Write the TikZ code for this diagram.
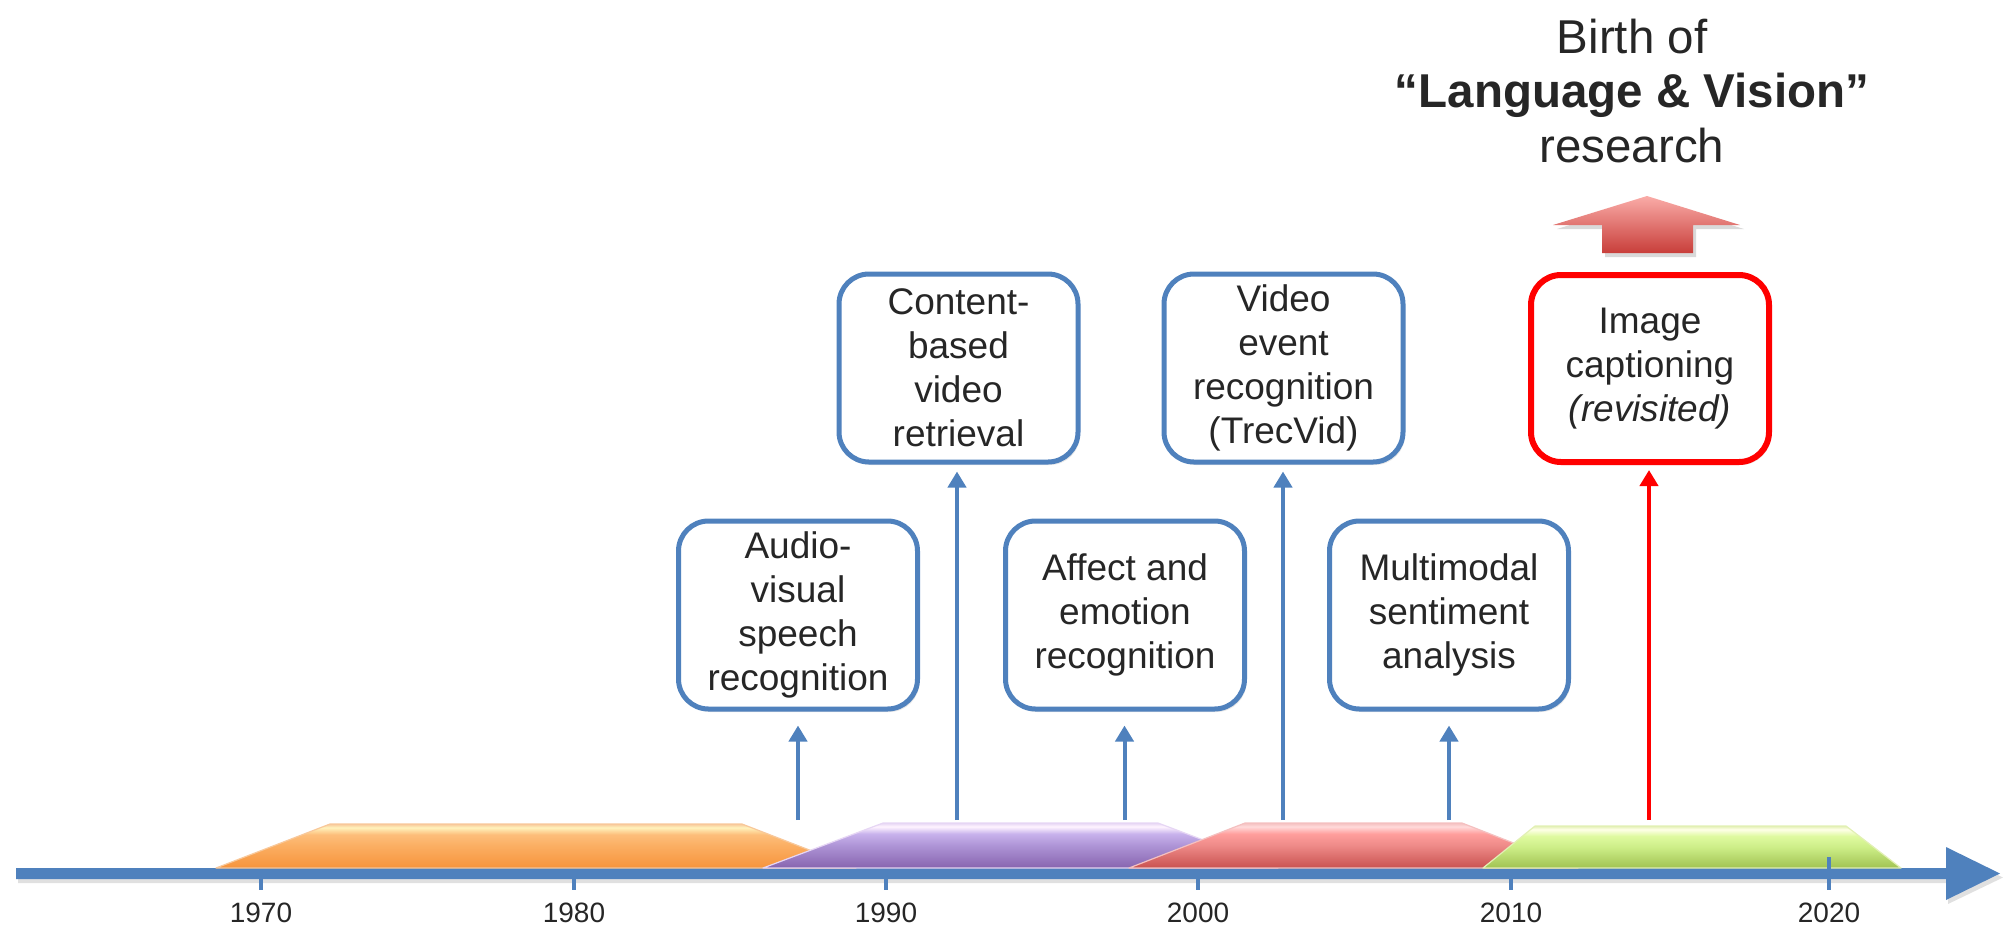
\documentclass[tikz,border=0pt]{standalone}
\usepackage{fontspec}
\setmainfont{Liberation Sans}
\usetikzlibrary{arrows.meta,shadows}

\definecolor{axisblue}{HTML}{4F81BD}
\definecolor{txt}{HTML}{262626}
\definecolor{keyred}{HTML}{FF0000}
\definecolor{upT}{RGB}{250,172,168}
\definecolor{upB}{RGB}{200,62,58}

% era bars: dark bottom edge, saturated body, light bevel band at the top
\definecolor{or1}{HTML}{E0843A}\definecolor{or2}{HTML}{F7963F}\definecolor{or3}{HTML}{FBAE62}
\definecolor{or4}{HTML}{FDBE7A}\definecolor{or5}{HTML}{FFF2BC}\definecolor{or6}{HTML}{F8C89A}
\definecolor{pu1}{HTML}{7B5C9C}\definecolor{pu2}{HTML}{8A68B2}\definecolor{pu3}{HTML}{AE94D6}
\definecolor{pu4}{HTML}{C8B2EC}\definecolor{pu5}{HTML}{FFF4FF}\definecolor{pu6}{HTML}{E6D6F4}
\definecolor{re1}{HTML}{B84A48}\definecolor{re2}{HTML}{CC5654}\definecolor{re3}{HTML}{EE8A88}
\definecolor{re4}{HTML}{FF9E9C}\definecolor{re5}{HTML}{FFDADA}\definecolor{re6}{HTML}{F4C0C0}
\definecolor{gr1}{HTML}{98B850}\definecolor{gr2}{HTML}{A4C656}\definecolor{gr3}{HTML}{CDEE88}
\definecolor{gr4}{HTML}{DFFAA0}\definecolor{gr5}{HTML}{FFFFE8}\definecolor{gr6}{HTML}{E2F0B4}
\pgfdeclareverticalshading{orshade}{100bp}{color(0bp)=(or1); color(25bp)=(or1); color(27bp)=(or2);
  color(50bp)=(or3); color(63bp)=(or4); color(71bp)=(or5); color(75bp)=(or6); color(100bp)=(or6)}
\pgfdeclareverticalshading{pushade}{100bp}{color(0bp)=(pu1); color(25bp)=(pu1); color(27bp)=(pu2);
  color(50bp)=(pu3); color(63bp)=(pu4); color(71bp)=(pu5); color(75bp)=(pu6); color(100bp)=(pu6)}
\pgfdeclareverticalshading{reshade}{100bp}{color(0bp)=(re1); color(25bp)=(re1); color(27bp)=(re2);
  color(50bp)=(re3); color(63bp)=(re4); color(71bp)=(re5); color(75bp)=(re6); color(100bp)=(re6)}
\pgfdeclareverticalshading{grshade}{100bp}{color(0bp)=(gr1); color(25bp)=(gr1); color(27bp)=(gr2);
  color(50bp)=(gr3); color(63bp)=(gr4); color(71bp)=(gr5); color(75bp)=(gr6); color(100bp)=(gr6)}

\begin{document}
\begin{tikzpicture}[x=0.5pt,y=-0.5pt,
  evbox/.style={draw=axisblue, line width=2.5pt, rounded corners=15pt, fill=white,
    minimum width=119.5pt, minimum height=94pt, inner sep=0pt, align=center,
    text=txt, font=\fontsize{18.5}{22}\selectfont,
    execute at begin node={\rule{0pt}{18.5pt}},
    drop shadow={shadow xshift=1pt, shadow yshift=-1.5pt, opacity=0.18}},
  keybox/.style={evbox, draw=keyred, line width=3pt, minimum width=119pt, minimum height=93.5pt},
  link/.style={draw=axisblue, line width=2pt, -{Triangle[width=9pt,length=8pt]}},
  keylink/.style={link, draw=keyred},
  axistick/.style={draw=axisblue, line width=2pt},
  yearlabel/.style={text=txt, font=\fontsize{14}{16}\selectfont, inner sep=0pt},
  era/.style={line width=0.6pt, line join=round, draw=#16, shading=#1shade}
]
\useasboundingbox (0,0) rectangle (2009,928);

% time axis with its arrow head
\fill[black, opacity=0.12] (18,872) -- (1948,872) -- (1948,851) -- (2003,877.5) -- (1948,904) -- (1948,883) -- (18,883) -- cycle;
\fill[axisblue] (16,868) -- (1946,868) -- (1946,847) -- (2000,873.5) -- (1946,900) -- (1946,879) -- (16,879) -- cycle;

% eras along the axis
\path[era=or] (216,868) -- (330,824) -- (742,824) -- (856,868) -- cycle;
\path[era=pu] (763,868) -- (883,823) -- (1158,823) -- (1278,868) -- cycle;
\path[era=re] (1129,868) -- (1245,823) -- (1462,823) -- (1578,868) -- cycle;
\path[era=gr] (1483,868) -- (1535,826) -- (1846,826) -- (1901,868) -- cycle;

% decade ticks and labels
\foreach \yr/\xx in {1970/261,1980/574,1990/886,2000/1198,2010/1511} {
  \draw[axistick] (\xx,879) -- (\xx,890);
  \node[yearlabel] (y\yr) at (\xx,913) {\yr};
}
\draw[axistick] (1829,857) -- (1829,890);
\node[yearlabel] (y2020) at (1829,913) {2020};

% milestones
\node[evbox] (av)   at (798,615)    {Audio-\\visual\\speech\\recognition};
\node[evbox] (cbvr) at (958.5,368)  {Content-\\based\\video\\retrieval};
\node[evbox] (aer)  at (1125,615)   {Affect and\\emotion\\recognition};
\node[evbox] (ver)  at (1283.5,368) {Video\\event\\recognition\\(TrecVid)};
\node[evbox] (msa)  at (1449,615)   {Multimodal\\sentiment\\analysis};
\node[keybox] (ic)  at (1650,368.5) {Image\\captioning\\\textit{(revisited)}};

\coordinate (av0)   at (798,820);
\coordinate (cbvr0) at (957,820);
\coordinate (aer0)  at (1124.5,820);
\coordinate (ver0)  at (1283,820);
\coordinate (msa0)  at (1449,820);
\coordinate (ic0)   at (1649,820);

\draw[link, shorten >=7pt] (av0) -- (av0 |- av.south);
\draw[link, shorten >=3.5pt] (cbvr0) -- (cbvr0 |- cbvr.south);
\draw[link, shorten >=7pt] (aer0) -- (aer0 |- aer.south);
\draw[link, shorten >=3.5pt] (ver0) -- (ver0 |- ver.south);
\draw[link, shorten >=7pt] (msa0) -- (msa0 |- msa.south);
\draw[keylink, shorten >=2.5pt] (ic0) -- (ic0 |- ic.south);

% the outcome above image captioning
\fill[black, opacity=0.15] (1605,257) -- (1605,229) -- (1557,229) -- (1650,200) -- (1744,229) -- (1696,229) -- (1696,257) -- cycle;
\shade[top color=upT, bottom color=upB]
  (1602,253) -- (1602,225) -- (1553,225) -- (1647,196) -- (1740,225) -- (1693,225) -- (1693,253) -- cycle;

\node[text=txt, align=center, inner sep=0pt, font=\fontsize{23.75}{27.25}\selectfont] (birth) at (1632,91)
  {Birth of\\\textbf{“Language \& Vision”}\\research};
\end{tikzpicture}
\end{document}
